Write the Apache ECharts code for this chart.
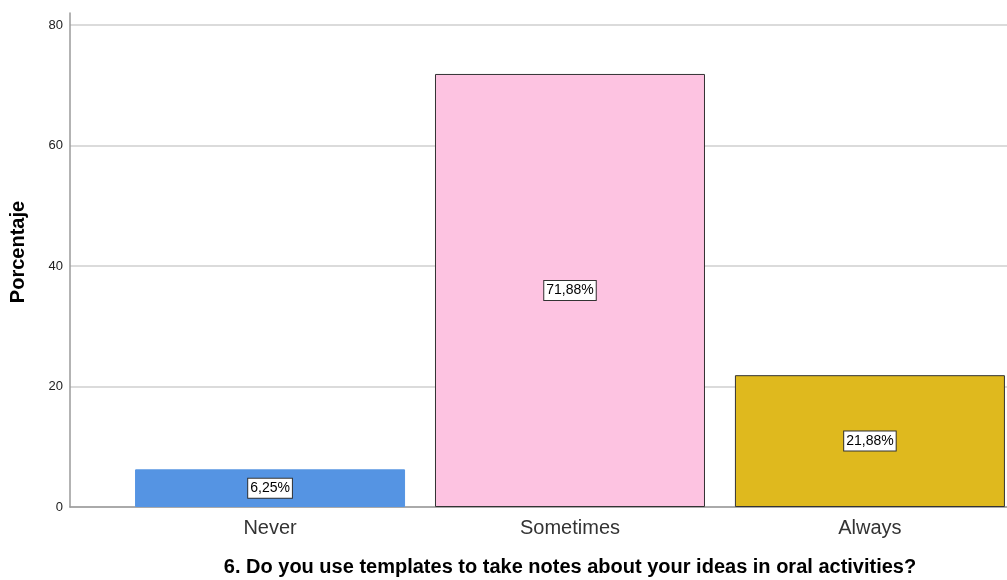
<!DOCTYPE html>
<html>
<head>
<meta charset="utf-8">
<script src="https://cdn.jsdelivr.net/npm/echarts@6/dist/echarts.min.js"></script>
<style>
  html, body { margin: 0; padding: 0; background: #fff; }
  #chart { width: 1007px; height: 580px; }
</style>
</head>
<body>
<div id="chart"></div>
<script>
// Survey answers and their share of respondents (%)
const categories = ['Never', 'Sometimes', 'Always'];
const percentages = [6.25, 71.88, 21.88];
const barColors = ['#5594e3', '#fdc3e1', '#dfb91e'];
const barBorders = ['#5594e3', '#333333', '#333333'];
const yTicks = [0, 20, 40, 60, 80];
const axisTitle = '6. Do you use templates to take notes about your ideas in oral activities?';
const yTitle = 'Porcentaje';

const fmtPct = v => v.toFixed(2).replace('.', ',') + '%';
const FONT = 'Liberation Sans, Arial, sans-serif';

const chart = echarts.init(document.getElementById('chart'));
chart.setOption({
  animation: false,
  grid: { left: 70, right: 0, top: 13, bottom: 73 },
  xAxis: {
    type: 'value',
    min: -0.667,
    max: 2.457,
    splitLine: { show: false },
    axisTick: { show: false },
    axisLine: { show: true, onZero: false, lineStyle: { color: '#9a9a9a', width: 1.5 } },
    axisLabel: {
      customValues: categories.map((c, i) => i),
      formatter: v => categories[Math.round(v)] ?? '',
      fontFamily: FONT,
      fontSize: 20,
      color: '#333',
      margin: 11
    }
  },
  yAxis: {
    type: 'value',
    min: 0,
    max: 82,
    interval: 20,
    axisLine: { show: true, onZero: false, lineStyle: { color: '#9a9a9a', width: 1.5 } },
    axisTick: { show: false, customValues: yTicks },
    axisLabel: {
      customValues: yTicks,
      fontFamily: FONT,
      fontSize: 13,
      color: '#222',
      margin: 7
    },
    splitLine: { show: true, lineStyle: { color: '#cfcfcf', width: 1.5 } }
  },
  series: [{
    type: 'bar',
    barWidth: 270,
    data: percentages.map((v, i) => ({
      value: [i, v],
      itemStyle: { color: barColors[i], borderColor: barBorders[i], borderWidth: 1 }
    })),
    label: {
      show: true,
      position: 'inside',
      formatter: p => fmtPct(p.value[1]),
      fontFamily: FONT,
      fontSize: 14,
      color: '#000',
      backgroundColor: '#fff',
      borderColor: '#333',
      borderWidth: 1,
      padding: [3, 2, 2, 2]
    }
  }],
  graphic: [{
    type: 'text',
    x: 570,
    y: 567,
    style: {
      text: axisTitle,
      align: 'center',
      verticalAlign: 'middle',
      fontFamily: FONT,
      fontSize: 20,
      fontWeight: 'bold',
      fill: '#000'
    }
  }, {
    type: 'text',
    x: 18,
    y: 252,
    rotation: Math.PI / 2,
    style: {
      text: yTitle,
      align: 'center',
      verticalAlign: 'middle',
      fontFamily: FONT,
      fontSize: 20,
      fontWeight: 'bold',
      fill: '#000'
    }
  }]
});
</script>
</body>
</html>
